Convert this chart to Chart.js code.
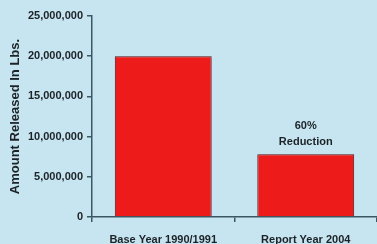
<!DOCTYPE html>
<html>
<head>
<meta charset="utf-8">
<script src="https://cdn.jsdelivr.net/npm/chart.js@4"></script>
<style>
  html, body { margin: 0; padding: 0; background: #c6e5f1; }
  #wrap { width: 377px; height: 244px; position: relative; }
</style>
</head>
<body>
<div id="wrap"><canvas id="graphs"></canvas></div>
<script>
// donnees
const categories = ['Base Year 1990/1991', 'Report Year 2004'];
const quantites = [20000000, 7800000];
const yTicks = [0, 5000000, 10000000, 15000000, 20000000, 25000000];
const noteBarre = ['60%', 'Reduction'];

const axeCouleur = '#3b5763';
const texteCouleur = '#1c2226';
const police = 'Liberation Sans, Arial, sans-serif';

// texte au-dessus de la deuxieme barre
const notePlugin = {
    id: 'note',
    afterDatasetsDraw(chart) {
        const bar = chart.getDatasetMeta(0).data[1];
        const c = chart.ctx;
        c.save();
        c.fillStyle = texteCouleur;
        c.font = 'bold 11px ' + police;
        c.textAlign = 'center';
        c.textBaseline = 'middle';
        c.fillText(noteBarre[0], bar.x, bar.y - 28);
        c.fillText(noteBarre[1], bar.x, bar.y - 12);
        c.restore();
    }
};

document.addEventListener('DOMContentLoaded', function() {
    var ctx = document.getElementById('graphs').getContext('2d');
    new Chart(ctx, {
        type: 'bar',
        data: {
            labels: categories,
            datasets: [{
                data: quantites,
                backgroundColor: '#ee1b1b',
                borderColor: '#5a1212',
                borderWidth: 1,
                barPercentage: 0.68,
                categoryPercentage: 1
            }]
        },
        options: {
            responsive: true,
            maintainAspectRatio: false,
            animation: false,
            layout: { padding: { top: 16, right: 0, left: 0, bottom: 0 } },
            plugins: {
                legend: { display: false },
                tooltip: { enabled: false }
            },
            scales: {
                x: {
                    grid: {
                        drawOnChartArea: false,
                        color: axeCouleur,
                        tickLength: 5,
                        lineWidth: 1.5
                    },
                    border: { color: axeCouleur, width: 1.5 },
                    ticks: {
                        color: texteCouleur,
                        padding: 11,
                        maxRotation: 0,
                        font: { family: police, size: 11, weight: 'bold' }
                    },
                    afterFit: function(axis) { axis.height = 27; }
                },
                y: {
                    min: 0,
                    max: 25000000,
                    afterBuildTicks: function(axis) {
                        axis.ticks = yTicks.map(v => ({ value: v }));
                    },
                    grid: {
                        drawOnChartArea: false,
                        color: axeCouleur,
                        tickLength: 5,
                        lineWidth: 1.5
                    },
                    border: { color: axeCouleur, width: 1.5 },
                    ticks: {
                        color: texteCouleur,
                        padding: 4,
                        font: { family: police, size: 11, weight: 'bold' },
                        callback: v => v.toLocaleString('en-US')
                    },
                    title: {
                        display: true,
                        text: 'Amount Released In Lbs.',
                        color: texteCouleur,
                        padding: { top: 8, bottom: 0 },
                        font: { family: police, size: 13, weight: 'bold' }
                    },
                    afterFit: function(axis) { axis.width = 92; }
                }
            }
        },
        plugins: [notePlugin]
    });
});
</script>
</body>
</html>
